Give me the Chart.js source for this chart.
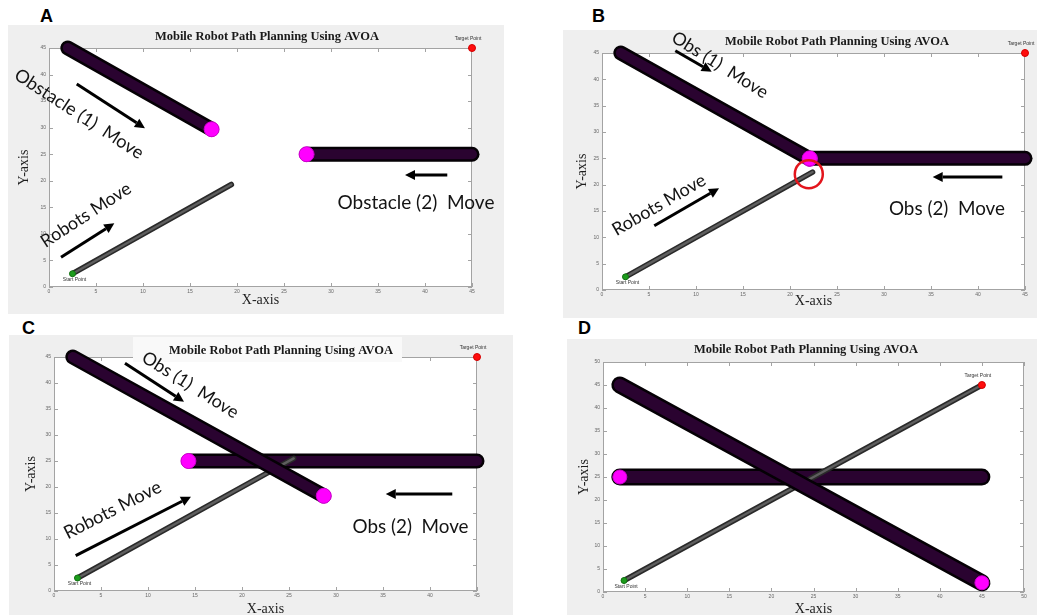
<!DOCTYPE html>
<html>
<head>
<meta charset="utf-8">
<script src="https://cdn.jsdelivr.net/npm/chart.js@4.4.1/dist/chart.umd.min.js"></script>
<style>
  html, body { margin: 0; padding: 0; background: #ffffff; }
  body { width: 1037px; height: 615px; position: relative; overflow: hidden; }
  .panel { position: absolute; background: #efefef; }
  .panel canvas { display: block; }
  .letter { position: absolute; font: bold 18px "Liberation Sans", Arial, sans-serif; line-height: 18px; color: #000; }
</style>
</head>
<body>
<div class="letter" style="left:40px;top:7px">A</div>
<div class="letter" style="left:592px;top:7px">B</div>
<div class="letter" style="left:22px;top:319px">C</div>
<div class="letter" style="left:578px;top:319px">D</div>
<script>
// ---- path data, one entry per snapshot (A, B, C, D) ----
const panelNames = ['A', 'B', 'C', 'D'];
const chartTitle = 'Mobile Robot Path Planning Using AVOA';
const axisMax = [45, 45, 45, 50];
const tickStep = 5;

// obstacle 1 slides down the diagonal, obstacle 2 slides left along y = 25
const obstacle1X = [[2, 17.3], [2, 22.1], [2, 28.7], [2, 45]];
const obstacle1Y = [[45, 29.7], [45, 24.9], [45, 18.3], [45, 2]];
const obstacle2X = [[45, 27.4], [45, 22.1], [45, 14.3], [45, 2]];
const obstacle2Y = [[25, 25], [25, 25], [25, 25], [25, 25]];

// robot trajectory from the start point toward the target
const robotX = [[2.5, 19.4], [2.5, 22.4], [2.5, 25.5], [2.5, 45]];
const robotY = [[2.5, 19.3], [2.5, 22.4], [2.5, 25.5], [2.5, 45]];

const startPoint = [2.5, 2.5];
const targetPoint = [45, 45];
const collisionMark = [null, [22, 22], null, null];

// ---- figure layout (page pixels) ----
const layout = {
  A: { box: [8, 25, 496, 289],  plot: [49, 48, 472, 287],   title: [259, 12],   xTitlePad: 5.6,  yTitlePad: 7.6,  band: 15, head: 7.5 },
  B: { box: [563, 30, 474, 288], plot: [602, 53, 1025, 290], title: [274, 11.7], xTitlePad: 7.9,  yTitlePad: 10.9, band: 15, head: 7.5 },
  C: { box: [9, 335, 504, 280],  plot: [54, 357, 477, 591],  title: [272, 16],   xTitlePad: -2.4, yTitlePad: 14.3, band: 15, head: 7.5, backdrop: [124, 2, 269, 25] },
  D: { box: [567, 339, 470, 276], plot: [603, 362, 1024, 592], title: [239, 10.3], xTitlePad: -2.4, yTitlePad: 8.9, band: 17, head: 7 }
};

// movement arrows [x0, y0, x1, y1] in axis units
const arrows = {
  A: [[2.95, 38.22, 10.21, 29.88], [1.28, 5.59, 6.95, 11.99], [42.37, 21.09, 37.87, 21.09]],
  B: [[7.80, 45.43, 11.67, 41.45], [5.56, 12.21, 12.45, 19.31], [42.59, 21.45, 35.18, 21.45]],
  C: [[7.55, 43.79, 13.83, 36.40], [2.31, 6.79, 14.57, 18.13], [42.37, 18.65, 35.29, 18.65]],
  D: []
};

// movement captions: centre in axis units, rotation in degrees, drawn width in px
const captions = {
  A: [
    { text: 'Obstacle (1)  Move', at: [3.19, 32.57], angle: 33, width: 150 },
    { text: 'Robots Move', at: [3.94, 13.56], angle: -33, width: 104 },
    { text: 'Obstacle (2)  Move', at: [39.04, 15.82], angle: 0, width: 157 }
  ],
  B: [
    { text: 'Obs (1)  Move', at: [12.55, 42.72], angle: 32, width: 110 },
    { text: 'Robots Move', at: [6.06, 16.14], angle: -30, width: 105 },
    { text: 'Obs (2)  Move', at: [36.70, 15.32], angle: 0, width: 116 }
  ],
  C: [
    { text: 'Obs (1)  Move', at: [14.5, 39.62], angle: 32, width: 110 },
    { text: 'Robots Move', at: [6.24, 15.58], angle: -27, width: 107 },
    { text: 'Obs (2)  Move', at: [37.93, 12.25], angle: 0, width: 116 }
  ],
  D: []
};

const pts = (xs, ys) => xs.map((v, k) => ({ x: v, y: ys[k] }));

// axes box, inward tick marks and the heading
const framePlugin = {
  id: 'frame',
  beforeDraw(chart, args, o) {
    const { ctx, chartArea: a } = chart;
    const sx = chart.scales.x, sy = chart.scales.y;
    ctx.save();
    ctx.fillStyle = '#ffffff';
    ctx.fillRect(a.left, a.top, a.width, a.height);
    ctx.strokeStyle = '#a3a3a3';
    ctx.lineWidth = 1;
    ctx.strokeRect(a.left + 0.5, a.top + 0.5, a.width - 1, a.height - 1);
    ctx.beginPath();
    sx.ticks.forEach(t => {
      const p = Math.round(sx.getPixelForValue(t.value)) + 0.5;
      ctx.moveTo(p, a.bottom); ctx.lineTo(p, a.bottom - 4);
      ctx.moveTo(p, a.top); ctx.lineTo(p, a.top + 4);
    });
    sy.ticks.forEach(t => {
      const p = Math.round(sy.getPixelForValue(t.value)) + 0.5;
      ctx.moveTo(a.left, p); ctx.lineTo(a.left + 4, p);
      ctx.moveTo(a.right, p); ctx.lineTo(a.right - 4, p);
    });
    ctx.stroke();
    if (o.backdrop) {
      ctx.fillStyle = '#f9f9f9';
      ctx.fillRect(o.backdrop[0], o.backdrop[1], o.backdrop[2], o.backdrop[3]);
    }
    ctx.fillStyle = '#1a1a1a';
    ctx.font = 'bold 12.5px "Liberation Serif", "Times New Roman", serif';
    ctx.textAlign = 'center';
    ctx.textBaseline = 'middle';
    ctx.fillText(o.text, o.x, o.y);
    ctx.restore();
  }
};

// point labels, collision ring, arrows and captions
const notesPlugin = {
  id: 'notes',
  afterDatasetsDraw(chart, args, o) {
    const { ctx } = chart;
    const X = v => chart.scales.x.getPixelForValue(v);
    const Y = v => chart.scales.y.getPixelForValue(v);
    ctx.save();
    ctx.fillStyle = '#333333';
    ctx.font = '5px "Liberation Sans", Arial, sans-serif';
    ctx.textAlign = 'center';
    ctx.textBaseline = 'middle';
    ctx.fillText('Target Point', X(o.target[0]) - 4, Y(o.target[1]) - 9);
    ctx.fillText('Start Point', X(o.start[0]) + 2, Y(o.start[1]) + 6);

    if (o.ring) {
      ctx.strokeStyle = '#e3151c';
      ctx.lineWidth = 2.5;
      ctx.beginPath();
      ctx.arc(X(o.ring[0]), Y(o.ring[1]), 14, 0, Math.PI * 2);
      ctx.stroke();
    }

    ctx.fillStyle = '#000000';
    ctx.strokeStyle = '#000000';
    o.arrows.forEach(([x0, y0, x1, y1]) => {
      const ax0 = X(x0), ay0 = Y(y0), ax1 = X(x1), ay1 = Y(y1);
      const ang = Math.atan2(ay1 - ay0, ax1 - ax0);
      const head = 10, half = 5;
      const bx = ax1 - head * Math.cos(ang), by = ay1 - head * Math.sin(ang);
      ctx.lineWidth = 3;
      ctx.lineCap = 'butt';
      ctx.beginPath(); ctx.moveTo(ax0, ay0); ctx.lineTo(bx, by); ctx.stroke();
      ctx.beginPath();
      ctx.moveTo(ax1, ay1);
      ctx.lineTo(bx + half * Math.sin(ang), by - half * Math.cos(ang));
      ctx.lineTo(bx - half * Math.sin(ang), by + half * Math.cos(ang));
      ctx.closePath();
      ctx.fill();
    });

    ctx.fillStyle = '#141414';
    o.captions.forEach(c => {
      ctx.font = '20px Lato, "Open Sans", sans-serif';
      const size = 20 * c.width / ctx.measureText(c.text).width;
      ctx.font = size.toFixed(2) + 'px Lato, "Open Sans", sans-serif';
      ctx.save();
      ctx.translate(X(c.at[0]), Y(c.at[1]));
      ctx.rotate(c.angle * Math.PI / 180);
      ctx.fillText(c.text, 0, 0);
      ctx.restore();
    });
    ctx.restore();
  }
};

panelNames.forEach((name, i) => {
  const L = layout[name];
  const [bx, by, bw, bh] = L.box;
  const [pl, pt, pr, pb] = L.plot;

  const wrap = document.createElement('div');
  wrap.className = 'panel';
  Object.assign(wrap.style, { left: bx + 'px', top: by + 'px', width: bw + 'px', height: bh + 'px' });
  const cv = document.createElement('canvas');
  cv.width = bw; cv.height = bh;
  wrap.appendChild(cv);
  document.body.appendChild(wrap);

  const leftW = pl - bx, topH = pt - by, rightPad = bx + bw - pr, bottomH = by + bh - pb;
  const o1 = pts(obstacle1X[i], obstacle1Y[i]);
  const o2 = pts(obstacle2X[i], obstacle2Y[i]);
  const rb = pts(robotX[i], robotY[i]);
  const band = (data, color, width, order) => ({
    data, showLine: true, borderColor: color, borderWidth: width, pointRadius: 0,
    borderCapStyle: 'round', borderJoinStyle: 'round', clip: false, order
  });

  const datasets = [
    band(o2, '#050005', L.band, 9),
    band(o2, '#2a0330', L.band - 5, 8),
    band(rb, '#2a2a2a', 5.5, 7),
    band(rb, '#5e5e5e', 2.4, 6),
    band(o1, '#050005', L.band, 5),
    band(o1, '#2a0330', L.band - 5, 4),
    { data: [o1[o1.length - 1], o2[o2.length - 1]], showLine: false, pointRadius: L.head,
      pointBackgroundColor: '#ff00ff', pointBorderColor: '#d200d2', pointBorderWidth: 1, clip: false, order: 3 },
    { data: [{ x: startPoint[0], y: startPoint[1] }], showLine: false, pointRadius: 3,
      pointBackgroundColor: '#1c9c1c', pointBorderColor: '#137313', pointBorderWidth: 1, clip: false, order: 2 },
    { data: [{ x: targetPoint[0], y: targetPoint[1] }], showLine: false, pointRadius: 3.5,
      pointBackgroundColor: '#ff0d0d', pointBorderColor: '#d40000', pointBorderWidth: 1, clip: false, order: 1 }
  ];

  const tickFont = { size: 5, family: '"Liberation Sans", Arial, sans-serif' };
  const axisFont = { size: 14, family: '"Liberation Serif", "Times New Roman", serif' };

  new Chart(cv, {
    type: 'scatter',
    data: { datasets },
    options: {
      responsive: false,
      animation: false,
      devicePixelRatio: 1,
      events: [],
      layout: { padding: { left: 0, top: topH, right: rightPad, bottom: 0 } },
      plugins: {
        legend: { display: false },
        tooltip: { enabled: false },
        frame: { text: chartTitle, x: L.title[0], y: L.title[1], backdrop: L.backdrop || null },
        notes: { target: targetPoint, start: startPoint, ring: collisionMark[i], arrows: arrows[name], captions: captions[name] }
      },
      scales: {
        x: {
          type: 'linear', min: 0, max: axisMax[i],
          afterFit: s => { s.height = bottomH; },
          grid: { display: false, drawTicks: false },
          border: { display: false },
          ticks: { stepSize: tickStep, font: tickFont, color: '#666666', padding: 2, maxRotation: 0, autoSkip: false },
          title: { display: true, text: 'X-axis', font: axisFont, color: '#1e1e1e', padding: { top: 0, bottom: L.xTitlePad } }
        },
        y: {
          type: 'linear', min: 0, max: axisMax[i],
          afterFit: s => { s.width = leftW; },
          grid: { display: false, drawTicks: false },
          border: { display: false },
          ticks: { stepSize: tickStep, font: tickFont, color: '#666666', padding: 3, autoSkip: false },
          title: { display: true, text: 'Y-axis', font: axisFont, color: '#1e1e1e', padding: { top: L.yTitlePad, bottom: 0 } }
        }
      }
    },
    plugins: [framePlugin, notesPlugin]
  });
});
</script>
</body>
</html>
